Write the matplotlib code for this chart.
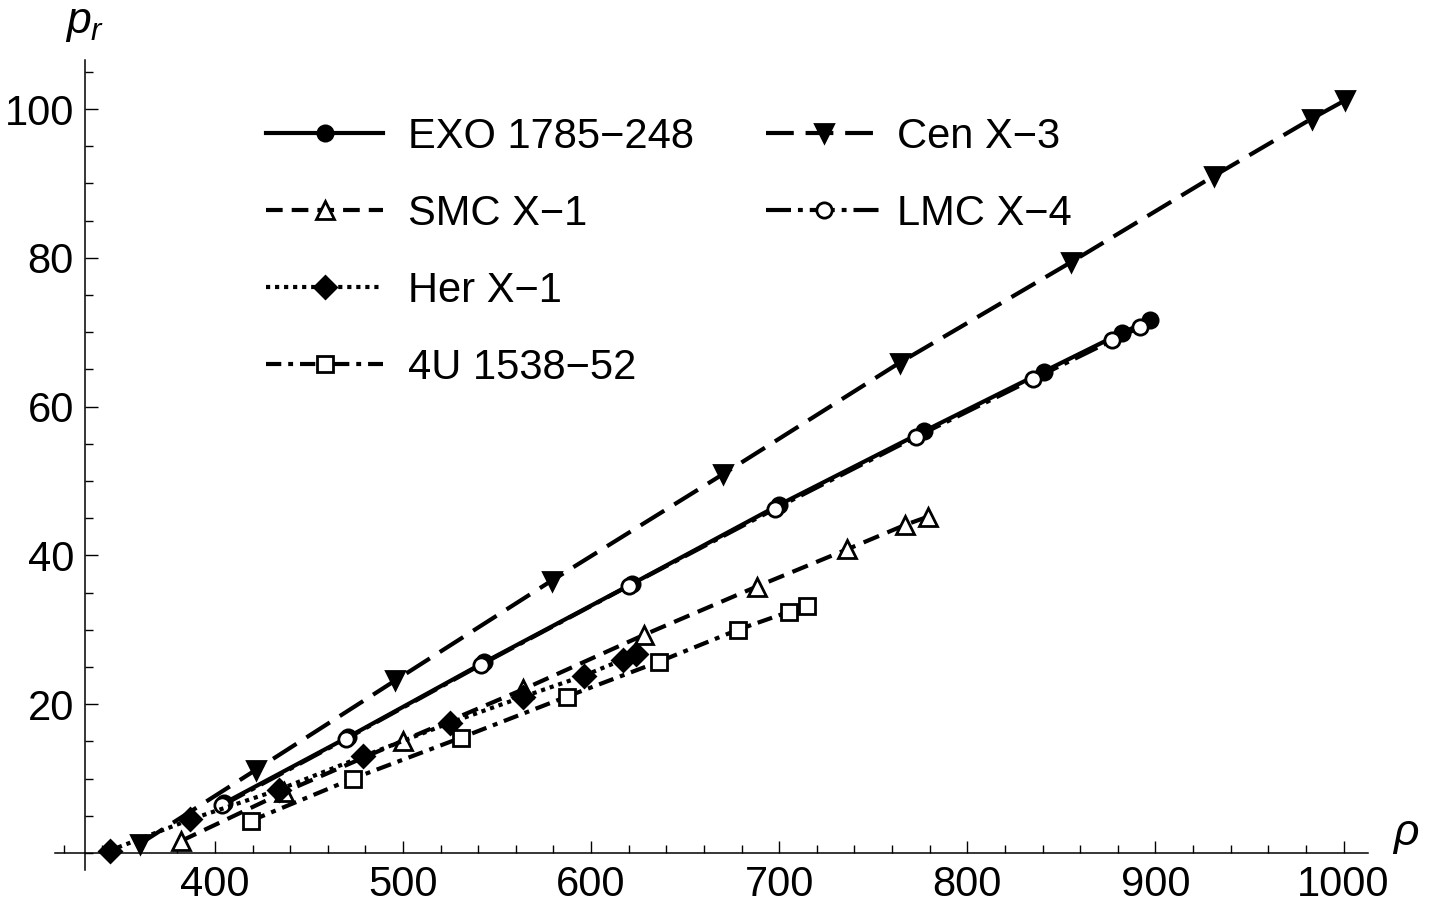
import matplotlib
matplotlib.use("Agg")
import matplotlib.pyplot as plt
from matplotlib.lines import Line2D
from matplotlib.transforms import Affine2D
from matplotlib.ticker import FixedLocator, MultipleLocator

plt.rcParams['font.family'] = ['Liberation Sans', 'DejaVu Sans']
plt.rcParams['lines.scale_dashes'] = False
plt.rcParams['mathtext.fontset'] = 'custom'
plt.rcParams['mathtext.it'] = 'Liberation Sans:italic'
plt.rcParams['mathtext.rm'] = 'Liberation Sans'

# values (rho, p_r)
exo_rho = [405, 471, 543, 622, 700, 777, 840.5, 882, 897]
exo_p = [6.7, 15.6, 25.6, 36.2, 46.8, 56.7, 64.7, 69.9, 71.6]

cen_rho = [360, 422, 496, 579, 670, 764, 855, 931, 983, 1001]
cen_p = [1.2, 11.2, 23.2, 36.6, 50.9, 65.9, 79.4, 91.0, 98.7, 101.2]

smc_rho = [382, 437, 500, 564, 628, 688, 736, 767, 779]
smc_p = [1.6, 8.2, 15.1, 22.0, 29.3, 35.8, 40.8, 44.1, 45.2]

lmc_rho = [404, 469.5, 541.5, 620, 698, 772.5, 835, 877, 892]
lmc_p = [6.4, 15.3, 25.3, 35.9, 46.3, 55.9, 63.7, 68.9, 70.7]

her_rho = [344, 387, 434, 479, 525, 564, 596, 617, 624]
her_p = [0.3, 4.5, 8.5, 13.0, 17.5, 21.0, 23.8, 26.0, 26.8]

u4_rho = [419, 473.5, 531, 587, 636, 678, 705, 715]
u4_p = [4.3, 10.0, 15.5, 21.0, 25.7, 30.0, 32.4, 33.2]

x_ticks = [400, 500, 600, 700, 800, 900, 1000]
y_ticks = [20, 40, 60, 80, 100]

W, H = 1432, 915
fig = plt.figure(figsize=(W / 100, H / 100), dpi=100)
ax = fig.add_axes([55 / W, 1 - 870 / H, (1368 - 55) / W, (870 - 60) / H])
ax.set_xlim(315, 1013)
ax.set_ylim(-2.3, 106.6)

# pixel coordinates, origin top-left
px = Affine2D().scale(1 / 100, -1 / 100).translate(0, H / 100) + fig.dpi_scale_trans

lw = 3.0
mew = 2.0
series = [
    (exo_rho, exo_p, "EXO 1785\u2212248", "-", "o", 11, "black"),
    (cen_rho, cen_p, "Cen X\u22123", (0, (20, 8.5)), "v", 13, "black"),
    (smc_rho, smc_p, "SMC X\u22121", (0, (12, 6.5)), "^", 13, "white"),
    (lmc_rho, lmc_p, "LMC X\u22124", (0, (18, 5, 3.5, 5)), "o", 11, "white"),
    (her_rho, her_p, "Her X\u22121", (0, (3, 3.5)), "D", 11, "black"),
    (u4_rho, u4_p, "4U 1538\u221252", (0, (11, 5, 3.5, 5)), "s", 11, "white"),
]

for rho, p, lab, ls, mk, ms, fc in series:
    ax.plot(rho, p, color="black", lw=lw, linestyle=ls, marker=mk, markersize=ms,
            markerfacecolor=fc, markeredgecolor="black", markeredgewidth=mew,
            clip_on=False)

# axes through the origin, Mathematica style
for s in ["top", "right"]:
    ax.spines[s].set_visible(False)
ax.spines["left"].set_position(("data", 331))
ax.spines["bottom"].set_position(("data", 0))
ax.spines["left"].set_linewidth(1.1)
ax.spines["bottom"].set_linewidth(1.1)

ax.xaxis.set_major_locator(FixedLocator(x_ticks))
ax.xaxis.set_minor_locator(MultipleLocator(20))
ax.yaxis.set_major_locator(FixedLocator(y_ticks))
ax.yaxis.set_minor_locator(MultipleLocator(5))
ax.tick_params(which="both", direction="in", width=1.0, labelsize=30)
ax.tick_params(which="major", length=9)
ax.tick_params(which="minor", length=5.5)
ax.tick_params(axis="x", pad=9)
ax.tick_params(axis="y", pad=8)

fig.text(1406, 845, "\u03c1", transform=px, fontsize=32, style="italic",
         ha="center", va="baseline")
fig.text(85, 33, "$p_r$", transform=px, fontsize=32, ha="center", va="baseline")

# legend drawn by hand: two columns, 4 + 2 rows
cols = [(266, 383, 408, series[0:1] + series[2:3] + series[4:6]),
        (766, 881, 897, series[1:2] + series[3:4])]
for x0, x1, xt, items in cols:
    for i, (rho, p, lab, ls, mk, ms, fc) in enumerate(items):
        y = 133 + 77 * i
        fig.add_artist(Line2D([x0, x1], [y, y], transform=px, color="black", lw=lw,
                              linestyle=ls))
        fig.add_artist(Line2D([(x0 + x1) / 2], [y], transform=px, marker=mk,
                              markersize=ms, markerfacecolor=fc,
                              markeredgecolor="black", markeredgewidth=mew,
                              linestyle="none"))
        fig.text(xt, y + 15, lab, transform=px, fontsize=30, va="baseline", ha="left")

fig.savefig("out.png", dpi=100)
